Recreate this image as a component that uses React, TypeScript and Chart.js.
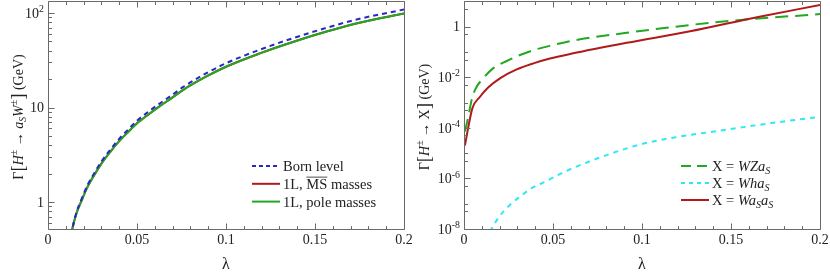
import React, { useEffect, useRef } from 'react';
import { Chart, registerables } from 'chart.js';

Chart.register(...registerables);

const FONT = '"Liberation Serif", "Times New Roman", serif';

// ---------- Left panel data: Γ[H± → a_S W±] (GeV) ----------
const leftLambda = [0.013, 0.0135, 0.016, 0.019, 0.022, 0.026, 0.030, 0.035, 0.040, 0.045, 0.050, 0.057, 0.063, 0.070, 0.076, 0.089, 0.100, 0.119, 0.138, 0.157, 0.175, 0.200];
const bornLevel = [0.44, 0.5, 0.78, 1.09, 1.48, 2.02, 2.68, 3.58, 4.66, 5.85, 7.25, 9.2, 11.1, 13.7, 16.5, 23.1, 29.4, 40.9, 54.4, 70.2, 86.8, 109];
const oneLoopMSbar = [0.43, 0.5, 0.76, 1.05, 1.42, 1.93, 2.55, 3.4, 4.4, 5.5, 6.8, 8.6, 10.4, 12.8, 15.4, 21.3, 27, 37.4, 49.7, 64, 79, 99];
const oneLoopPole = [0.43, 0.5, 0.76, 1.05, 1.42, 1.93, 2.55, 3.4, 4.4, 5.5, 6.8, 8.6, 10.4, 12.8, 15.4, 21.3, 27, 37.4, 49.7, 64, 79, 99];

// ---------- Right panel data: Γ[H± → X] (GeV) ----------
const wzLambda = [0.0005, 0.0024, 0.0043, 0.0062, 0.0108, 0.0165, 0.024, 0.0315, 0.0408, 0.0502, 0.0596, 0.0914, 0.127, 0.151, 0.2];
const wzValues = [7.1e-5, 2.75e-4, 1.26e-3, 3.2e-3, 9.1e-3, 2.3e-2, 4.4e-2, 7.6e-2, 0.129, 0.19, 0.27, 0.575, 1.17, 1.74, 3.16];

const whLambda = [0.0145, 0.0198, 0.0258, 0.0315, 0.038, 0.0455, 0.053, 0.0596, 0.082, 0.1, 0.12, 0.138, 0.157, 0.176, 0.2];
const whValues = [8.0e-9, 3.1e-8, 8.9e-8, 1.9e-7, 4.1e-7, 7.4e-7, 1.38e-6, 2.3e-6, 9.3e-6, 2.3e-5, 4.4e-5, 6.8e-5, 1.07e-4, 1.66e-4, 2.75e-4];

const wasLambda = [0.0005, 0.0047, 0.009, 0.0137, 0.0202, 0.0296, 0.039, 0.0483, 0.0596, 0.0914, 0.127, 0.166, 0.2];
const wasValues = [2.0e-5, 5.9e-4, 1.7e-3, 4.0e-3, 9.1e-3, 2.04e-2, 3.55e-2, 5.5e-2, 8.3e-2, 0.23, 0.66, 2.5, 7.2];

// ---------- Ticks ----------
const xTickValues = [0, 0.05, 0.1, 0.15, 0.2];
const xTickLabels = ['0', '0.05', '0.1', '0.15', '0.2'];
const leftYTickValues = [1, 10, 100];
const leftYTickLabels = [['1', ''], ['10', ''], ['10', '2']];
const rightYTickValues = [1, 1e-2, 1e-4, 1e-6, 1e-8];
const rightYTickLabels = [['1', ''], ['10', '-2'], ['10', '-4'], ['10', '-6'], ['10', '-8']];

type Run = { t: string; it?: boolean; sub?: boolean; sup?: boolean; over?: boolean; scale?: number };

function fontFor(r: Run, size: number) {
  const s = (r.sub || r.sup ? size * 0.7 : size) * (r.scale || 1);
  return `${r.it ? 'italic ' : ''}${s}px ${FONT}`;
}
function measureRuns(ctx: CanvasRenderingContext2D, runs: Run[], size: number) {
  let w = 0;
  for (const r of runs) {
    ctx.font = fontFor(r, size);
    w += ctx.measureText(r.t).width;
  }
  return w;
}
function drawRuns(ctx: CanvasRenderingContext2D, runs: Run[], x: number, yMid: number, size: number, align: 'left' | 'center' | 'right') {
  const w = measureRuns(ctx, runs, size);
  let cx = align === 'left' ? x : align === 'center' ? x - w / 2 : x - w;
  const base = yMid + size * 0.34;
  ctx.textAlign = 'left';
  ctx.textBaseline = 'alphabetic';
  for (const r of runs) {
    ctx.font = fontFor(r, size);
    const dy = r.sub ? size * 0.22 : r.sup ? -size * 0.4 : (r.scale ? size * 0.08 * r.scale : 0);
    ctx.fillText(r.t, cx, base + dy);
    const rw = ctx.measureText(r.t).width;
    if (r.over) {
      ctx.save();
      ctx.strokeStyle = ctx.fillStyle as string;
      ctx.lineWidth = 0.8;
      ctx.beginPath();
      ctx.moveTo(cx, base - size * 0.8);
      ctx.lineTo(cx + rw, base - size * 0.8);
      ctx.stroke();
      ctx.restore();
    }
    cx += rw;
  }
}

interface LegendItem { color: string; dash: number[]; runs: Run[] }
interface PanelCfg {
  yMajor: number[];
  yLabels: string[][];
  yMinor: number[];
  yTitle: Run[];
  yTitleOffset: number;
  legend: LegendItem[];
  legendX: number;
  legendY: number;
  legendStep: number;
}

const xMinor: number[] = [];
for (let i = 0; i <= 20; i++) if (i % 5 !== 0) xMinor.push(i / 100);

function framePlugin(cfg: PanelCfg) {
  return {
    id: 'frameAndText',
    afterDraw(chart: any) {
      const ctx: CanvasRenderingContext2D = chart.ctx;
      const a = chart.chartArea;
      const xs = chart.scales.x;
      const ys = chart.scales.y;
      const frame = '#6a6a6a';
      ctx.save();
      ctx.strokeStyle = frame;
      ctx.lineWidth = 1;
      ctx.beginPath();
      ctx.rect(Math.round(a.left) + 0.5, Math.round(a.top) + 0.5, Math.round(a.right - a.left), Math.round(a.bottom - a.top));
      ctx.stroke();
      const tick = (x1: number, y1: number, x2: number, y2: number) => {
        ctx.beginPath();
        ctx.moveTo(x1, y1);
        ctx.lineTo(x2, y2);
        ctx.stroke();
      };
      const L = Math.round(a.left) + 0.5;
      const B = Math.round(a.bottom) + 0.5;
      const T = Math.round(a.top) + 0.5;
      const major = 6, minor = 3.5;
      for (const v of xTickValues) {
        const px = Math.round(xs.getPixelForValue(v)) + 0.5;
        tick(px, B, px, B - major);
        tick(px, T, px, T + major);
      }
      for (const v of xMinor) {
        const px = Math.round(xs.getPixelForValue(v)) + 0.5;
        tick(px, B, px, B - minor);
        tick(px, T, px, T + minor);
      }
      for (const v of cfg.yMajor) {
        const py = Math.round(ys.getPixelForValue(v)) + 0.5;
        tick(L, py, L + major, py);
      }
      for (const v of cfg.yMinor) {
        const py = ys.getPixelForValue(v);
        if (py < a.top - 0.5 || py > a.bottom + 0.5) continue;
        const q = Math.round(py) + 0.5;
        tick(L, q, L + minor, q);
      }
      ctx.fillStyle = '#222';
      xTickValues.forEach((v, i) => {
        drawRuns(ctx, [{ t: xTickLabels[i] }], xs.getPixelForValue(v), a.bottom + 10, 14, 'center');
      });
      cfg.yMajor.forEach((v, i) => {
        const [b, e] = cfg.yLabels[i];
        const runs: Run[] = [{ t: b }];
        if (e) runs.push({ t: e, sup: true });
        drawRuns(ctx, runs, a.left - 4, ys.getPixelForValue(v), 14, 'right');
      });
      drawRuns(ctx, [{ t: 'λ' }], (a.left + a.right) / 2, a.bottom + 35, 16, 'center');
      ctx.save();
      ctx.translate(a.left - cfg.yTitleOffset, (a.top + a.bottom) / 2 + 2);
      ctx.rotate(-Math.PI / 2);
      drawRuns(ctx, cfg.yTitle, 0, 0, 14, 'center');
      ctx.restore();
      cfg.legend.forEach((it, i) => {
        const y = a.top + cfg.legendY + i * cfg.legendStep;
        const x0 = a.left + cfg.legendX;
        ctx.save();
        ctx.strokeStyle = it.color;
        ctx.lineWidth = 2;
        ctx.setLineDash(it.dash);
        ctx.beginPath();
        ctx.moveTo(x0, y);
        ctx.lineTo(x0 + 28, y);
        ctx.stroke();
        ctx.restore();
        ctx.fillStyle = '#222';
        drawRuns(ctx, it.runs, x0 + 31, y, 14.5, 'left');
      });
      ctx.restore();
    },
  };
}

const BLUE = '#2828c8';
const RED = '#b01a1a';
const GREEN = '#22a822';
const CYAN = '#30e8f0';

const zip = (xs: number[], ys: number[]) => xs.map((x, i) => ({ x, y: ys[i] }));

const leftMinor: number[] = [];
for (const d of [0.1, 1, 10, 100]) for (let m = 2; m <= 9; m++) leftMinor.push(m * d);
const rightMinor: number[] = [];
for (let n = -8; n <= 1; n++) {
  if (n % 2 !== 0) rightMinor.push(Math.pow(10, n));
  rightMinor.push(5 * Math.pow(10, n));
}

function makeLeft(): any {
  const cfg: PanelCfg = {
    yMajor: leftYTickValues,
    yLabels: leftYTickLabels,
    yMinor: leftMinor,
    yTitle: [
      { t: 'Γ' }, { t: '[', scale: 1.35 }, { t: 'H', it: true }, { t: '±', sup: true }, { t: ' → ' },
      { t: 'a', it: true }, { t: 'S', it: true, sub: true }, { t: 'W', it: true }, { t: '±', sup: true },
      { t: ']', scale: 1.35 }, { t: ' (GeV)' },
    ],
    yTitleOffset: 30,
    legend: [
      { color: BLUE, dash: [4, 3], runs: [{ t: 'Born level' }] },
      { color: RED, dash: [], runs: [{ t: '1L, ' }, { t: 'MS', over: true }, { t: ' masses' }] },
      { color: GREEN, dash: [], runs: [{ t: '1L, pole masses' }] },
    ],
    legendX: 204,
    legendY: 165,
    legendStep: 17.8,
  };
  return {
    type: 'line',
    data: {
      datasets: [
        { label: 'Born level', data: zip(leftLambda, bornLevel), borderColor: BLUE, borderDash: [5, 4], borderWidth: 2, order: 0 },
        { label: '1L, MS masses', data: zip(leftLambda, oneLoopMSbar), borderColor: RED, borderWidth: 2, order: 2 },
        { label: '1L, pole masses', data: zip(leftLambda, oneLoopPole), borderColor: GREEN, borderWidth: 2, order: 1 },
      ].map((d) => ({ ...d, pointRadius: 0, cubicInterpolationMode: 'monotone', fill: false })),
    },
    options: {
      animation: false,
      responsive: false,
      events: [],
      layout: { padding: { left: 48, right: 11, top: 1, bottom: 50 } },
      scales: {
        x: { type: 'linear', min: 0, max: 0.2, display: false },
        y: { type: 'logarithmic', min: 0.518, max: 134, display: false },
      },
      plugins: { legend: { display: false }, tooltip: { enabled: false } },
    },
    plugins: [framePlugin(cfg)],
  };
}

function makeRight(): any {
  const cfg: PanelCfg = {
    yMajor: rightYTickValues,
    yLabels: rightYTickLabels,
    yMinor: rightMinor,
    yTitle: [
      { t: 'Γ' }, { t: '[', scale: 1.35 }, { t: 'H', it: true }, { t: '±', sup: true }, { t: ' → X' },
      { t: ']', scale: 1.35 }, { t: ' (GeV)' },
    ],
    yTitleOffset: 40,
    legend: [
      { color: GREEN, dash: [10, 6], runs: [{ t: 'X = ' }, { t: 'WZa', it: true }, { t: 'S', it: true, sub: true }] },
      { color: CYAN, dash: [4, 4], runs: [{ t: 'X = ' }, { t: 'Wha', it: true }, { t: 'S', it: true, sub: true }] },
      { color: RED, dash: [], runs: [{ t: 'X = ' }, { t: 'Wa', it: true }, { t: 'S', it: true, sub: true }, { t: 'a', it: true }, { t: 'S', it: true, sub: true }] },
    ],
    legendX: 217,
    legendY: 165,
    legendStep: 17,
  };
  return {
    type: 'line',
    data: {
      datasets: [
        { label: 'WZaS', data: zip(wzLambda, wzValues), borderColor: GREEN, borderDash: [13, 7], borderWidth: 2, order: 1 },
        { label: 'WhaS', data: zip(whLambda, whValues), borderColor: CYAN, borderDash: [5, 5], borderWidth: 2, order: 2 },
        { label: 'WaSaS', data: zip(wasLambda, wasValues), borderColor: RED, borderWidth: 2, order: 0 },
      ].map((d) => ({ ...d, pointRadius: 0, cubicInterpolationMode: 'monotone', fill: false })),
    },
    options: {
      animation: false,
      responsive: false,
      events: [],
      layout: { padding: { left: 49, right: 10, top: 1, bottom: 50 } },
      scales: {
        x: { type: 'linear', min: 0, max: 0.2, display: false },
        y: { type: 'logarithmic', min: 1e-8, max: 10.4, display: false },
      },
      plugins: { legend: { display: false }, tooltip: { enabled: false } },
    },
    plugins: [framePlugin(cfg)],
  };
}

function Panel({ make, left }: { make: () => any; left: number }) {
  const ref = useRef<HTMLCanvasElement>(null);
  useEffect(() => {
    const chart = new Chart(ref.current as HTMLCanvasElement, make());
    return () => chart.destroy();
  }, [make]);
  return (
    <canvas
      ref={ref}
      width={415}
      height={279}
      style={{ position: 'absolute', left, top: 0, width: 415, height: 279 }}
    />
  );
}

export default function App() {
  return (
    <div style={{ position: 'fixed', left: 0, top: 0, width: 830, height: 279, background: '#fff' }}>
      <Panel make={makeLeft} left={0} />
      <Panel make={makeRight} left={415} />
    </div>
  );
}
